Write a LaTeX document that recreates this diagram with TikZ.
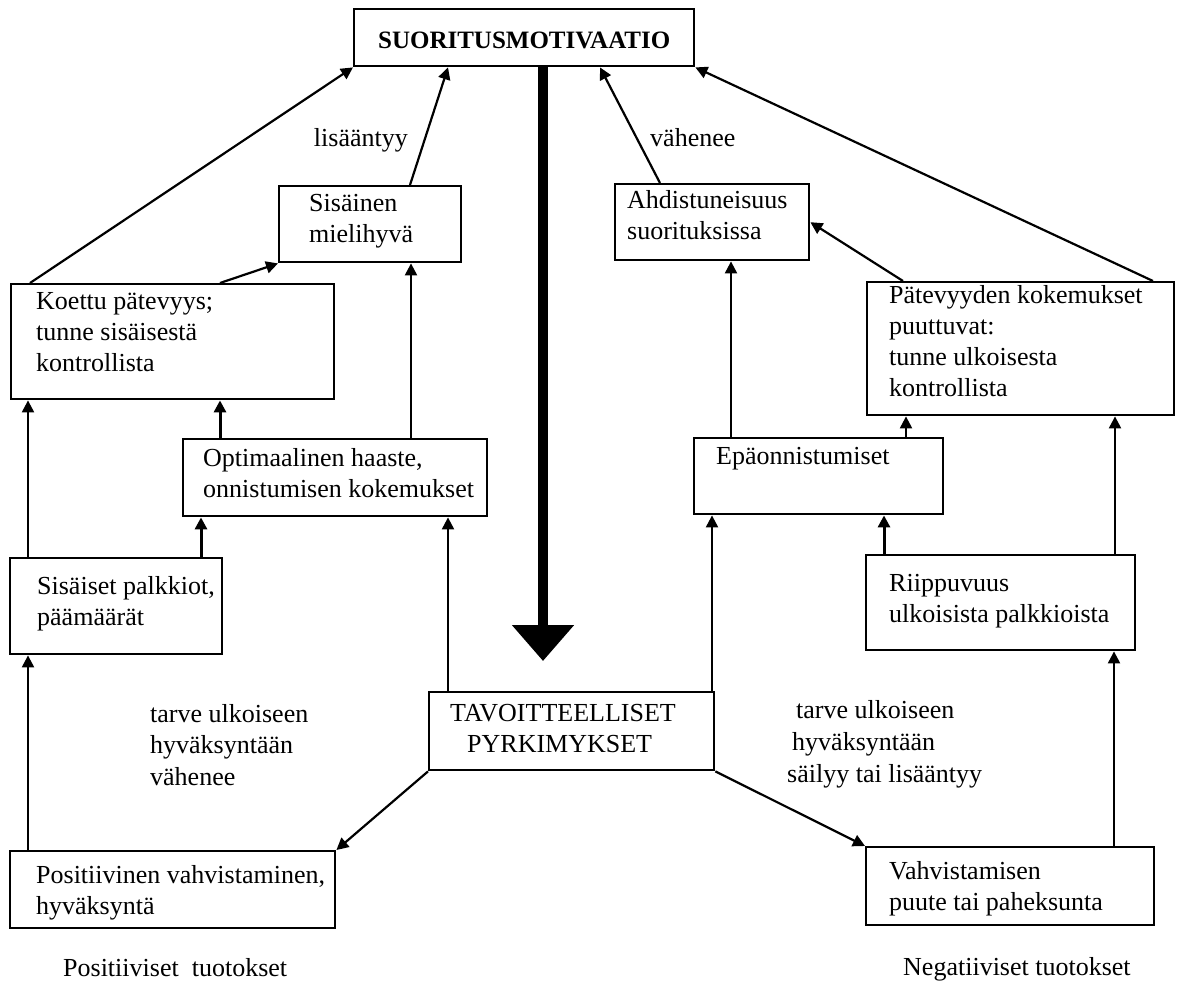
\documentclass[tikz,border=0pt]{standalone}
\usepackage{fontspec}
\setmainfont{Liberation Serif}
\usetikzlibrary{arrows.meta}
% #1 width, #2 height, #3 left inset, #4 first baseline from top, #5 text
\newcommand\bt[5]{\parbox[c][#2pt][t]{#1pt}{\raggedright\parindent=0pt\leftskip=#3pt\rule{0pt}{#4pt}#5\par}}
\newcommand\lbtext[2]{\parbox[t]{#1pt}{\raggedright\parindent=0pt\rule{0pt}{20pt}#2\par}}
\tikzset{
  box/.style={draw, line width=2.4pt, inner sep=0pt, anchor=north west, font=\fontsize{26}{31}\selectfont},
  arr/.style={line width=2.2pt, -{Triangle[length=12pt,width=12pt]}},
  tarr/.style={arr, line width=3pt},
  bigarr/.style={line width=10pt, -{Triangle[length=36pt,width=60pt]}},
  lbl/.style={inner sep=0pt, font=\fontsize{26}{31.5}\selectfont},
}
\begin{document}
\begin{tikzpicture}[x=1pt, y=-1pt]
\fill[white] (0,0) rectangle (1178,983);
\useasboundingbox (0,0) rectangle (1178,983);

% boxes
\node[box] (top) at (353,8) {\parbox[c][57pt][t]{340pt}{\fontsize{25}{30}\selectfont\bfseries\centering\rule{0pt}{39pt}SUORITUSMOTIVAATIO\par}};
\node[box] (sis) at (278,185) {\bt{182}{76}{30}{25}{Sisäinen\\mielihyvä}};
\node[box] (ahd) at (614,183) {\bt{194}{76}{12}{24}{Ahdistuneisuus\\suorituksissa}};
\node[box] (koe) at (10,283) {\bt{323}{115}{25}{25}{Koettu pätevyys;\\tunne sisäisestä\\kontrollista}};
\node[box] (pat) at (866,281) {\bt{307}{133}{22}{21}{Pätevyyden kokemukset\\puuttuvat:\\tunne ulkoisesta\\kontrollista}};
\node[box] (opt) at (182,438) {\bt{304}{77}{20}{27}{Optimaalinen haaste,\\onnistumisen kokemukset}};
\node[box] (epa) at (693,437) {\bt{249}{76}{22}{26}{Epäonnistumiset}};
\node[box] (spa) at (9,557) {\bt{212}{96}{27}{36}{Sisäiset palkkiot,\\päämäärät}};
\node[box] (rip) at (865,554) {\bt{269}{95}{23}{36}{Riippuvuus\\ulkoisista palkkioista}};
\node[box] (tav) at (428,691) {\bt{285}{78}{21}{29}{TAVOITTEELLISET\\\hspace*{17pt}PYRKIMYKSET}};
\node[box] (pos) at (9,850) {\bt{325}{77}{26}{32}{Positiivinen vahvistaminen,\\hyväksyntä}};
\node[box] (vah) at (865,846) {\bt{288}{78}{23}{32}{Vahvistamisen\\puute tai paheksunta}};

% labels
\node[lbl, anchor=base east] (lis) at (408,146) {lisääntyy};
\node[lbl, anchor=base west] (vah2) at (650,146) {vähenee};
\node[lbl, anchor=north west] (tvl) at (150,702) {\lbtext{260}{tarve ulkoiseen\\hyväksyntään\\vähenee}};
\node[lbl, anchor=north west, font=\fontsize{26}{32}\selectfont] (tvr) at (787,698) {\lbtext{260}{\hspace*{9pt}tarve ulkoiseen\\\hspace*{5pt}hyväksyntään\\säilyy tai lisääntyy}};
\node[lbl, anchor=base west] (posl) at (63,976) {Positiiviset\ \ tuotokset};
\node[lbl, anchor=base west] (negl) at (903,975) {Negatiiviset tuotokset};

% thick central arrow
\coordinate (bigend) at (543,661);
\draw[bigarr] (543,0 |- top.south) -- (bigend);

% connectors, left side
\draw[arr] (30,0 |- koe.north) -- (top.south west);
\draw[arr] (220,0 |- koe.north) -- (sis.south west);
\draw[arr] (410,0 |- sis.north) -- (448,0 |- top.south);
\draw[tarr] (220,0 |- opt.north) -- (220,0 |- koe.south);
\draw[arr] (411,0 |- opt.north) -- (411,0 |- sis.south);
\draw[arr] (28,0 |- spa.north) -- (28,0 |- koe.south);
\draw[tarr] (201,0 |- spa.north) -- (201,0 |- opt.south);
\draw[arr] (448,0 |- tav.north) -- (448,0 |- opt.south);
\draw[arr] (28,0 |- pos.north) -- (28,0 |- spa.south);
\draw[arr] (tav.south west) -- (pos.north east);

% connectors, right side
\draw[arr] (660,0 |- ahd.north) -- (600,0 |- top.south);
\draw[arr] (903,0 |- pat.north) -- (ahd.east);
\draw[arr] (1153,0 |- pat.north) -- (top.south east);
\draw[arr] (731,0 |- epa.north) -- (731,0 |- ahd.south);
\draw[arr] (906,0 |- epa.north) -- (906,0 |- pat.south);
\draw[tarr] (884,0 |- rip.north) -- (884,0 |- epa.south);
\draw[arr] (1115,0 |- rip.north) -- (1115,0 |- pat.south);
\draw[arr] (712,0 |- tav.north) -- (712,0 |- epa.south);
\draw[arr] (1114,0 |- vah.north) -- (1114,0 |- rip.south);
\draw[arr] (tav.south east) -- (vah.north west);
\end{tikzpicture}
\end{document}
